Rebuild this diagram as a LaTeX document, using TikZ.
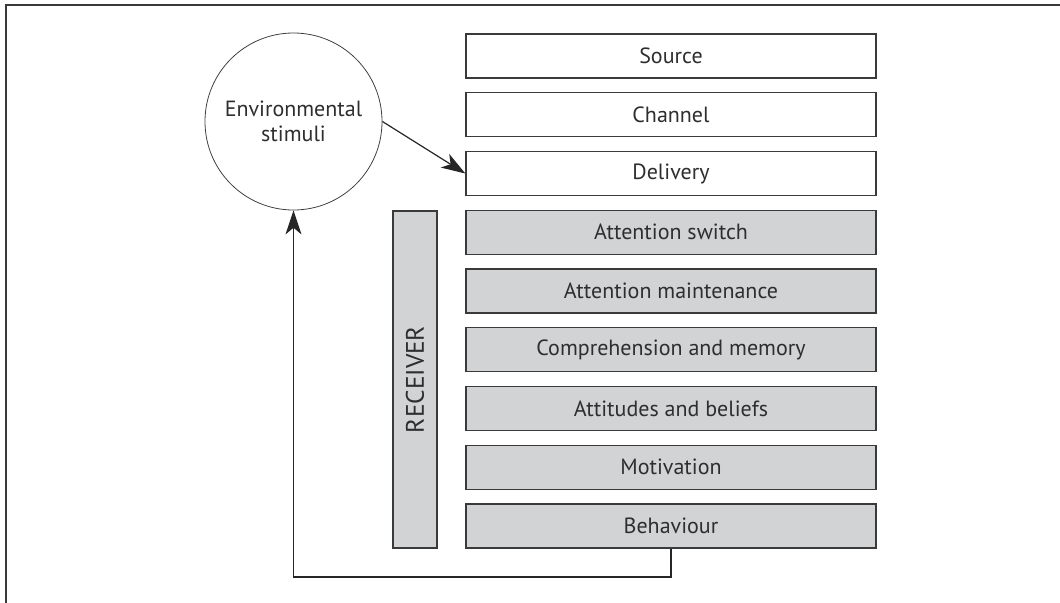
\documentclass[tikz,border=0pt]{standalone}
\usepackage{fontspec}
\setmainfont{PT Sans}
\usetikzlibrary{arrows.meta,positioning}
\definecolor{txt}{HTML}{2E2E2E}
\definecolor{edge}{HTML}{3A3A3A}
\definecolor{fillg}{HTML}{D2D3D5}
\tikzset{
  lbl/.style={text=txt, font=\fontsize{16.5}{18.75}\selectfont},
  stagebox/.style={lbl, draw=edge, line width=1pt, minimum width=307.5pt, minimum height=33pt, inner sep=0pt},
  whitebox/.style={stagebox, fill=white},
  greybox/.style={stagebox, fill=fillg},
  arr/.style={draw=black!85, line width=0.9pt, -{Stealth[length=18pt,width=12pt,inset=5pt]}},
}
\begin{document}
\begin{tikzpicture}[x=0.75pt,y=-0.75pt]
\useasboundingbox (0,0) rectangle (1060,603);
\draw[edge, line width=1pt] (1060,5) -- (6,5) -- (6,603);
\node[whitebox] (source) at (671,56) {Source};
\node[whitebox] (channel) at (671,114.75) {Channel};
\node[whitebox] (delivery) at (671,173.5) {Delivery};
\node[greybox] (switch) at (671,232.25) {Attention switch};
\node[greybox] (maint) at (671,291) {Attention maintenance};
\node[greybox] (compr) at (671,349.75) {Comprehension and memory};
\node[greybox] (attit) at (671,408.5) {Attitudes and beliefs};
\node[greybox] (motiv) at (671,467.25) {Motivation};
\node[greybox] (behav) at (671,526) {Behaviour};
\node[draw=edge, line width=1pt, fill=fillg, minimum width=33pt, minimum height=252.75pt, inner sep=0pt] (receiver) at (415,379.5) {};
\node[lbl, rotate=90, font=\fontsize{19}{21}\selectfont] (reclabel) at (receiver.center) {RECEIVER};
\node[lbl, circle, draw=black!75, line width=0.6pt, minimum size=132.75pt, inner sep=0pt, align=center] (env) at (293.5,121.5) {Environmental\\stimuli};
\draw[arr] (env.east) -- (delivery.west);
\coordinate (fb1) at (671,577);
\coordinate (fb2) at (293.5,577);
\draw[arr] (behav.south) -- (fb1) -- (fb2) -- (env.south);
\end{tikzpicture}
\end{document}
